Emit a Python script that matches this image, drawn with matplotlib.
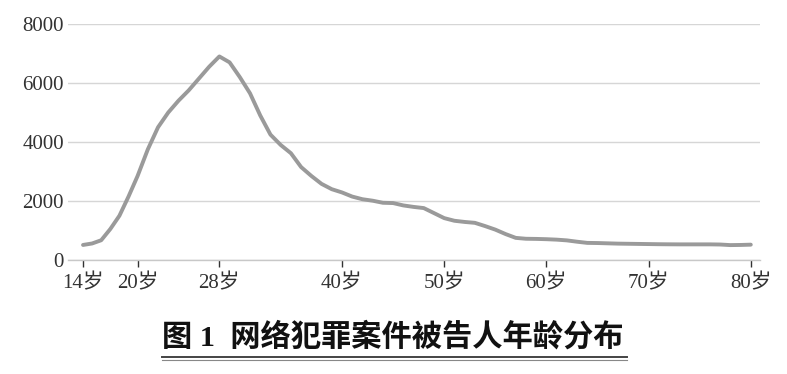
import numpy as np
import matplotlib
matplotlib.use("Agg")
import matplotlib.pyplot as plt
from matplotlib.lines import Line2D

# ---- data ----
ages = list(range(14, 81))
counts = [510, 560, 670, 1050, 1500, 2150, 2850, 3750, 4500, 5000,
          5400, 5750, 6150, 6550, 6900, 6700, 6200, 5650, 4900, 4250,
          3900, 3620, 3150, 2850, 2580, 2400, 2290, 2150, 2060, 2010,
          1940, 1930, 1850, 1800, 1760, 1590, 1420, 1330, 1290, 1260,
          1150, 1030, 880, 750, 720, 715, 705, 690, 665, 620,
          580, 575, 565, 555, 550, 545, 540, 535, 532, 530,
          530, 530, 530, 525, 505, 510, 520]
tick_ages = [14, 20, 28, 40, 50, 60, 70, 80]
tick_labels = ["14岁", "20岁", "28岁", "40岁", "50岁", "60岁", "70岁", "80岁"]
y_ticks = [0, 2000, 4000, 6000, 8000]
title = "图 1  网络犯罪案件被告人年龄分布"

# the first segment (14-20) of the axis is slightly compressed in the source
def xpos(a):
    return np.interp(a, [14, 20, 80], [14.66, 20, 80])

W, H = 787, 374
fig = plt.figure(figsize=(W / 100, H / 100), dpi=100)
ax = fig.add_axes([68 / W, (H - 260) / H, (760 - 68) / W, (260 - 24) / H])

ax.plot(xpos(np.array(ages)), counts, color="#9a9a9a", lw=2.8,
        solid_capstyle="round", solid_joinstyle="round", zorder=3)

ax.set_xlim(13.19, 80.9)
ax.set_ylim(0, 8000)
ax.set_yticks(y_ticks)
ax.set_yticklabels([str(v) for v in y_ticks])
ax.set_xticks(xpos(np.array(tick_ages)))
ax.set_xticklabels(tick_labels)

for s in ["left", "right", "top"]:
    ax.spines[s].set_visible(False)
ax.spines["bottom"].set_color("#c8c8c8")
ax.spines["bottom"].set_linewidth(1.0)

ax.grid(axis="y", color="#d6d6d6", lw=1.0, zorder=0)
ax.set_axisbelow(True)

ax.tick_params(axis="y", length=0, pad=3, labelsize=15, labelcolor="#333333")
ax.tick_params(axis="x", length=5, width=1, color="#333333", direction="out",
               pad=5, labelsize=15, labelcolor="#333333")
for lab in ax.get_yticklabels():
    lab.set_family(["Liberation Serif", "Noto Sans CJK SC"])
for lab in ax.get_xticklabels():
    lab.set_family(["Liberation Serif", "Noto Sans CJK SC"])

fig.text(393 / W, 1 - 337 / H, title, ha="center", va="center",
         fontsize=21.8, fontweight="bold", color="#111111",
         family=["Liberation Serif", "Noto Sans CJK SC"])

fig.add_artist(Line2D([162 / W, 627 / W], [1 - 356.8 / H, 1 - 356.8 / H],
                      transform=fig.transFigure, color="#444444", lw=1.4))
fig.add_artist(Line2D([162 / W, 627 / W], [1 - 360.2 / H, 1 - 360.2 / H],
                      transform=fig.transFigure, color="#888888", lw=0.8))

fig.savefig("out.png", dpi=100, facecolor="white")
